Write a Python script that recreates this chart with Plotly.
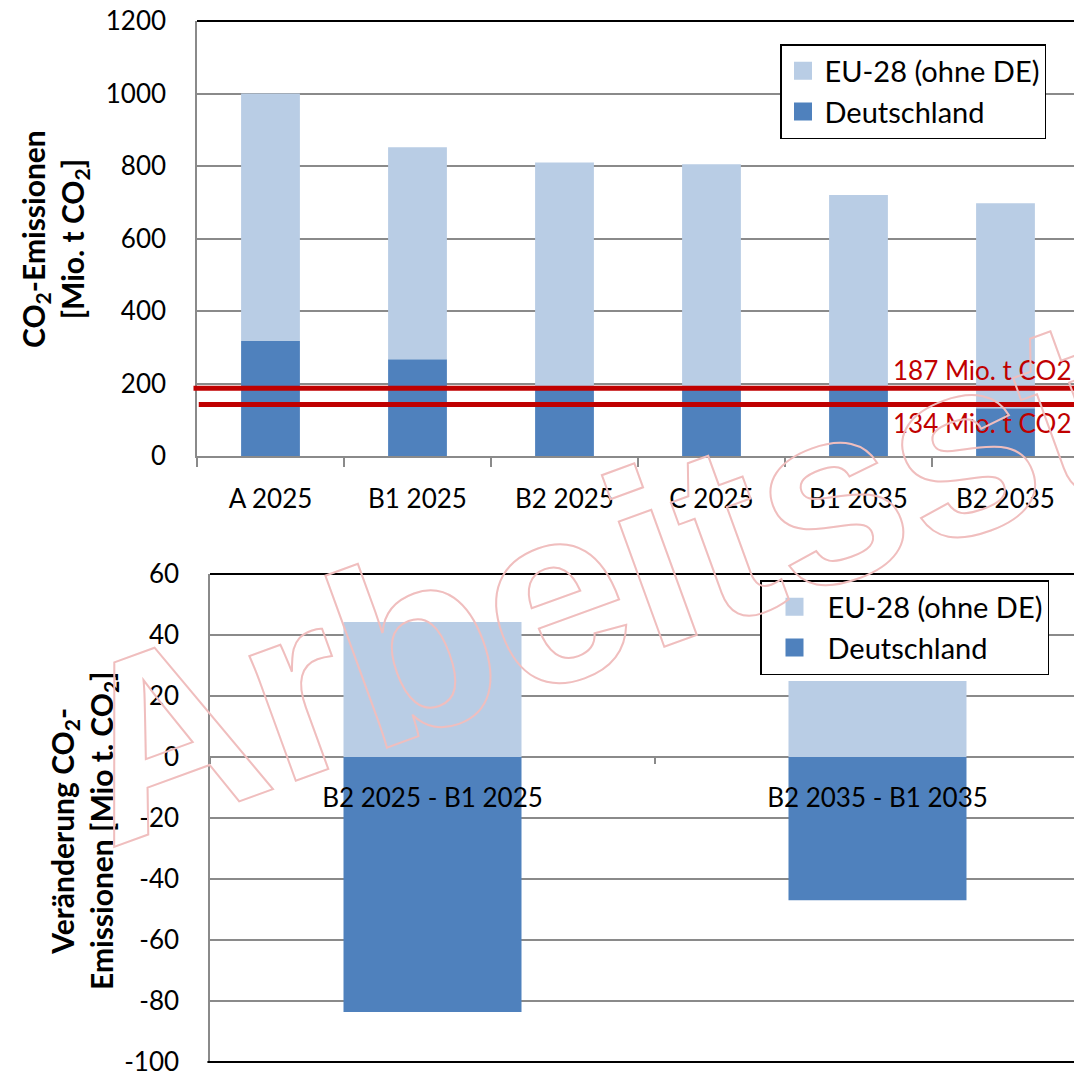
import plotly.graph_objects as go

# ---------------- data ----------------
scenarios = ["A 2025", "B1 2025", "B2 2025", "C 2025", "B1 2035", "B2 2035"]
total_emissions = [1000, 852, 810, 805, 720, 697]
de_emissions = [317, 267, 187, 187, 187, 132]
eu_emissions = [t - d for t, d in zip(total_emissions, de_emissions)]

ref_levels = [187, 142]
ref_labels = ["187 Mio. t CO2", "134 Mio. t CO2"]

diff_categories = ["B2 2025 - B1 2025", "B2 2035 - B1 2035"]
diff_eu = [44.3, 24.9]
diff_de = [-83.6, -47.0]

top_ticks = [0, 200, 400, 600, 800, 1000, 1200]
bottom_ticks = [-100, -80, -60, -40, -20, 0, 20, 40, 60]
bottom_tick_text = ["-100", "-80", "-60", "-40", "-20", "0", "20", "40", "60"]

C_EU = "#B9CDE5"
C_DE = "#4F81BD"
C_RED = "#C00000"
GRID = "#8A8A8A"
FONT = "Lato"

W, H = 1074, 1073

fig = go.Figure()

# top chart
fig.add_trace(go.Bar(x=scenarios, y=de_emissions, name="Deutschland",
                     marker=dict(color=C_DE, line=dict(width=0)),
                     width=0.4, xaxis="x", yaxis="y", legend="legend"))
fig.add_trace(go.Bar(x=scenarios, y=eu_emissions, name="EU-28 (ohne DE)",
                     marker=dict(color=C_EU, line=dict(width=0)),
                     width=0.4, xaxis="x", yaxis="y", legend="legend"))

# bottom chart
fig.add_trace(go.Bar(x=diff_categories, y=diff_de, name="Deutschland",
                     marker=dict(color=C_DE, line=dict(width=0)),
                     width=0.4, xaxis="x2", yaxis="y2", legend="legend2"))
fig.add_trace(go.Bar(x=diff_categories, y=diff_eu, name="EU-28 (ohne DE)",
                     marker=dict(color=C_EU, line=dict(width=0)),
                     width=0.4, xaxis="x2", yaxis="y2", legend="legend2"))

shapes = []
# plot-area borders (black)
shapes.append(dict(type="line", xref="x domain", yref="y domain",
                   x0=0, x1=1, y0=1, y1=1, line=dict(color="black", width=2)))
shapes.append(dict(type="line", xref="x2 domain", yref="y2 domain",
                   x0=0, x1=1, y0=1, y1=1, line=dict(color="black", width=2)))
shapes.append(dict(type="line", xref="x2 domain", yref="y2 domain",
                   x0=-0.003, x1=1, y0=0, y1=0, line=dict(color="black", width=2)))
# red reference lines
for lvl, start in zip(ref_levels, [-0.004, 0.002]):
    shapes.append(dict(type="line", xref="x domain", yref="y",
                       x0=start, x1=1, y0=lvl, y1=lvl,
                       line=dict(color=C_RED, width=5), layer="above"))

annotations = []
# red labels
annotations.append(dict(text=ref_labels[0], xref="paper", yref="paper",
                        x=1.0, y=1 - 370 / H, xanchor="right", yanchor="middle",
                        showarrow=False, font=dict(family=FONT, size=26, color=C_RED)))
annotations.append(dict(text=ref_labels[1], xref="paper", yref="paper",
                        x=1.0, y=1 - 423 / H, xanchor="right", yanchor="middle",
                        showarrow=False, font=dict(family=FONT, size=26, color=C_RED)))
# axis titles
annotations.append(dict(text="CO<sub>2</sub>-Emissionen<br>[Mio. t CO<sub>2</sub>]",
                        xref="paper", yref="paper", x=55 / W, y=1 - 239 / H,
                        xanchor="center", yanchor="middle", textangle=-90,
                        showarrow=False,
                        font=dict(family=FONT, size=30, color="black", weight="bold")))
annotations.append(dict(text="Veränderung CO<sub>2</sub>-<br>Emissionen [Mio t. CO<sub>2</sub>]",
                        xref="paper", yref="paper", x=84 / W, y=1 - 831 / H,
                        xanchor="center", yanchor="middle", textangle=-90,
                        showarrow=False,
                        font=dict(family=FONT, size=30, color="black", weight="bold")))
# watermark
annotations.append(dict(text="Arbeitsstand", xref="paper", yref="paper",
                        x=802 / W, y=1 - 504 / H, xanchor="center", yanchor="middle",
                        textangle=-20, showarrow=False,
                        font=dict(family="Liberation Sans", size=252,
                                  color="rgba(240,185,185,0.25)", weight="bold")))

axis_font = dict(family=FONT, size=26, color="black")
legend_font = dict(family=FONT, size=29, color="black")

fig.update_layout(
    width=W, height=H,
    margin=dict(l=0, r=0, t=0, b=0, autoexpand=False),
    paper_bgcolor="white", plot_bgcolor="white",
    barmode="relative",
    showlegend=True,
    font=dict(family=FONT, color="black"),
    xaxis=dict(domain=[197 / W, 1], range=[-0.5, 5.466], type="category",
               anchor="y", automargin=False, showgrid=False, showline=True,
               linecolor=GRID, linewidth=1.5,
               ticks="outside", ticklen=9, tickwidth=1.5, tickcolor=GRID,
               tickson="boundaries", tickfont=axis_font, ticklabelstandoff=19,
               zeroline=False),
    yaxis=dict(domain=[1 - 456 / H, 1 - 21 / H], range=[0, 1200],
               tickmode="array", tickvals=top_ticks, ticklabeloverflow="allow",
               anchor="x", automargin=False, showgrid=True, gridcolor=GRID, gridwidth=1.5,
               showline=True, linecolor=GRID, linewidth=1.5, ticks="",
               tickfont=axis_font, ticklabelstandoff=24, zeroline=False),
    xaxis2=dict(domain=[210 / W, 1], range=[-0.5, 1.4416], type="category",
                anchor="free", position=1 - 757 / H, automargin=False,
                showgrid=False, showline=False,
                ticks="outside", ticklen=6, tickwidth=1.5, tickcolor=GRID,
                tickson="boundaries", tickfont=axis_font, ticklabelstandoff=23,
                zeroline=False),
    yaxis2=dict(domain=[1 - 1062 / H, 1 - 574 / H], range=[-100, 60],
                tickmode="array", tickvals=bottom_ticks, ticktext=bottom_tick_text,
                ticklabeloverflow="allow",
                anchor="x2", automargin=False, showgrid=True, gridcolor=GRID, gridwidth=1.5,
                showline=True, linecolor=GRID, linewidth=1.5, ticks="",
                tickfont=axis_font, ticklabelstandoff=24,
                zeroline=True, zerolinecolor=GRID, zerolinewidth=1.5),
    legend=dict(x=780 / W, y=1 - 44 / H, xanchor="left", yanchor="top",
                bgcolor="white", bordercolor="black", borderwidth=1.5,
                font=legend_font, traceorder="reversed", itemwidth=33),
    legend2=dict(x=760 / W, y=1 - 580 / H, xanchor="left", yanchor="top",
                 bgcolor="white", bordercolor="black", borderwidth=1.5,
                 font=legend_font, traceorder="reversed", itemwidth=56),
    shapes=shapes,
    annotations=annotations,
)

post = """
document.querySelectorAll('text.annotation-text').forEach(function(t){
  if (t.textContent.indexOf('Arbeitsstand') === 0) {
    t.style.fill = 'none';
    t.style.stroke = 'rgb(240,190,190)';
    t.style.strokeWidth = '2px';
  }
});
document.querySelectorAll('.legendpoints path').forEach(function(p){
  p.setAttribute('d', 'M9,9H-9V-9H9Z');
});
"""

fig.write_html("out.html", post_script=post)
